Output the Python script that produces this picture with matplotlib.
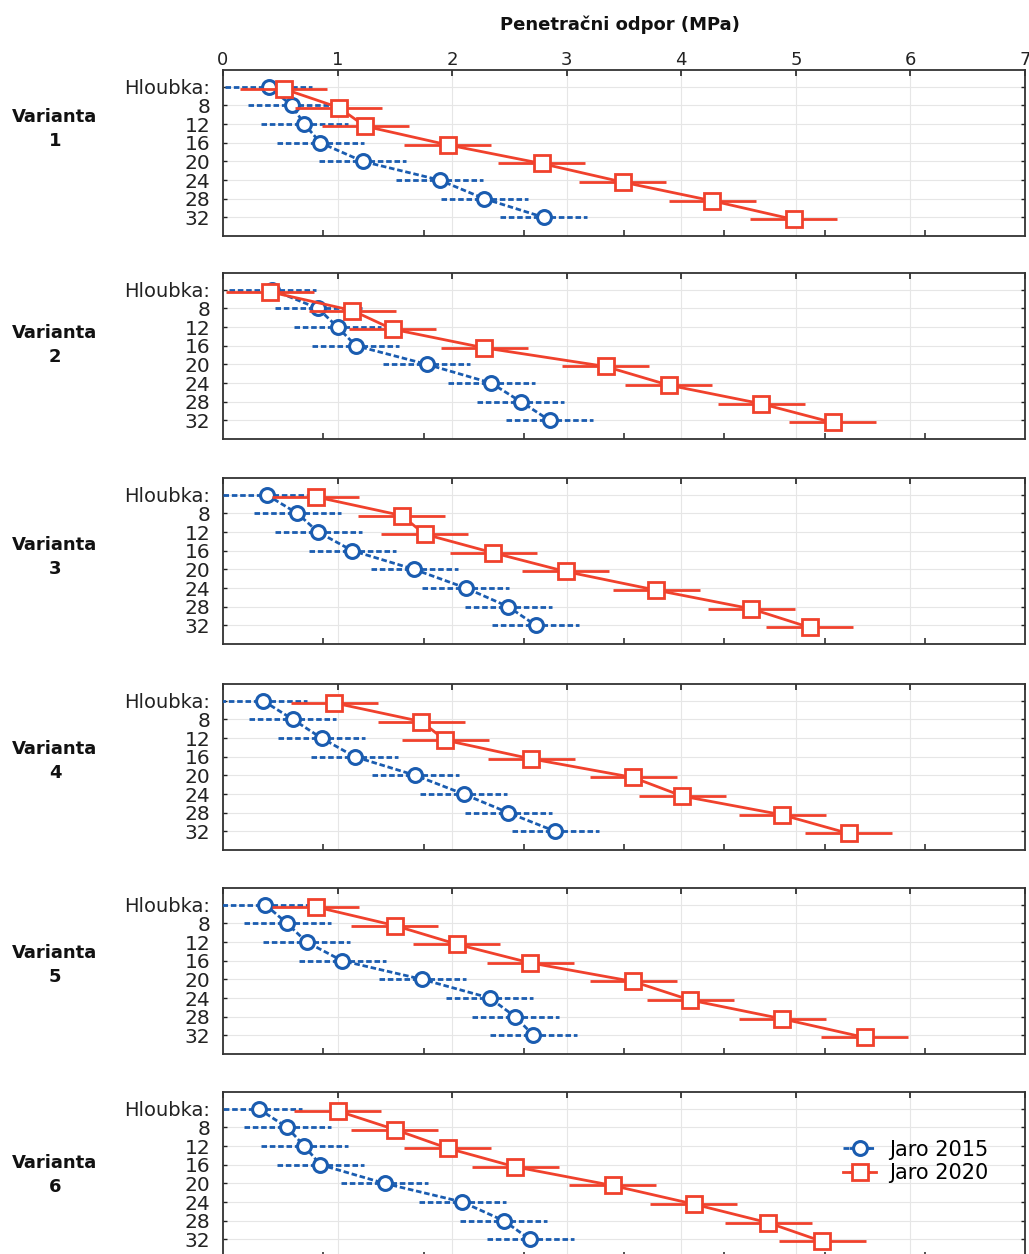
import matplotlib
matplotlib.use('Agg')
import matplotlib.pyplot as plt
import numpy as np

# ---------------- data ----------------
depths = [4, 8, 12, 16, 20, 24, 28, 32]
depth_labels = ['Hloubka:', '8', '12', '16', '20', '24', '28', '32']
variant_names = ['Varianta\n1', 'Varianta\n2', 'Varianta\n3',
                 'Varianta\n4', 'Varianta\n5', 'Varianta\n6']
series_labels = ['Jaro 2015', 'Jaro 2020']

jaro2015 = [
    [0.40, 0.60, 0.71, 0.85, 1.22, 1.89, 2.28, 2.80],
    [0.43, 0.83, 1.00, 1.16, 1.78, 2.34, 2.60, 2.85],
    [0.38, 0.65, 0.83, 1.13, 1.67, 2.12, 2.49, 2.73],
    [0.35, 0.61, 0.86, 1.15, 1.68, 2.10, 2.49, 2.90],
    [0.37, 0.56, 0.73, 1.04, 1.74, 2.33, 2.55, 2.71],
    [0.31, 0.56, 0.71, 0.85, 1.41, 2.09, 2.45, 2.68],
]
jaro2020 = [
    [0.53, 1.01, 1.24, 1.96, 2.78, 3.49, 4.27, 4.98],
    [0.41, 1.13, 1.48, 2.28, 3.34, 3.89, 4.70, 5.32],
    [0.81, 1.56, 1.76, 2.36, 2.99, 3.78, 4.61, 5.12],
    [0.97, 1.73, 1.94, 2.69, 3.58, 4.01, 4.88, 5.46],
    [0.81, 1.50, 2.04, 2.68, 3.58, 4.08, 4.88, 5.60],
    [1.00, 1.50, 1.96, 2.55, 3.40, 4.11, 4.76, 5.23],
]
ci2015 = 0.38   # half-width of the confidence interval
ci2020 = 0.38

x_ticks = [0, 1, 2, 3, 4, 5, 6, 7]
title = 'Penetračni odpor (MPa)'

# ---------------- layout / style ----------------
W, H = 1029, 1254
fig = plt.figure(figsize=(W / 100, H / 100), dpi=100)
left_px, right_px = 223, 1025
tops = [70, 273, 478, 684, 888, 1092]
ph = 166
label_centers = [129, 345, 557, 761, 965, 1175]

blue = '#1a5cb0'
red = '#f0412c'
blue_ls = (0, (2.0, 1.0))
red_offset = 0.45

for i in range(6):
    ax = fig.add_axes([left_px / W, 1 - (tops[i] + ph) / H,
                       (right_px - left_px) / W, ph / H])
    ax.set_xlim(0, 7)
    ax.set_ylim(36, 0.4)

    ax.set_yticks(depths)
    ax.set_yticklabels(depth_labels)
    ax.set_xticks(x_ticks)
    ax.set_xticks([7 * k / 8 for k in range(1, 8)], minor=True)
    ax.tick_params(axis='x', which='major', top=True, bottom=False,
                   labeltop=(i == 0), labelbottom=False, direction='in',
                   length=4, width=1.2, labelsize=13, pad=1, colors='#222222')
    ax.tick_params(axis='x', which='minor', top=False, bottom=True,
                   direction='in', length=4, width=1.2, color='#333333')
    ax.tick_params(axis='y', which='major', left=True, right=True,
                   direction='in', length=3, width=1.0, labelsize=14.5,
                   pad=9, colors='#222222')
    ax.get_yticklabels()[0].set_fontsize(14)

    ax.grid(True, which='major', color='#e6e6e6', linewidth=0.8)
    ax.set_axisbelow(True)
    for sp in ax.spines.values():
        sp.set_color('#333333')
        sp.set_linewidth(1.3)

    d = np.array(depths, dtype=float)
    eb1 = ax.errorbar(jaro2015[i], d, xerr=ci2015, fmt='o', linestyle=blue_ls,
                      color=blue, mfc='white', mec=blue, ms=10, mew=2.2,
                      lw=2.0, elinewidth=2.0, capsize=0, zorder=3,
                      label=series_labels[0])
    eb1[2][0].set_linestyle(blue_ls)
    eb2 = ax.errorbar(jaro2020[i], d + red_offset, xerr=ci2020, fmt='s',
                      linestyle='-', color=red, mfc='white', mec=red, ms=11,
                      mew=2.0, lw=2.0, elinewidth=2.0, capsize=0, zorder=4,
                      label=series_labels[1])

    fig.text(55 / W, 1 - label_centers[i] / H, variant_names[i],
             ha='center', va='center', fontsize=13, fontweight='bold',
             linespacing=1.4, color='#111111')

    if i == 5:
        ax.legend(loc='upper left', bbox_to_anchor=(0.755, 0.80),
                  frameon=False, fontsize=15, handlelength=1.6,
                  handletextpad=0.6, labelspacing=0.15, borderpad=0.2)

fig.text(620 / W, 1 - 25 / H, title, ha='center', va='center',
         fontsize=13, fontweight='bold', color='#111111')

fig.savefig('out.png', dpi=100)
